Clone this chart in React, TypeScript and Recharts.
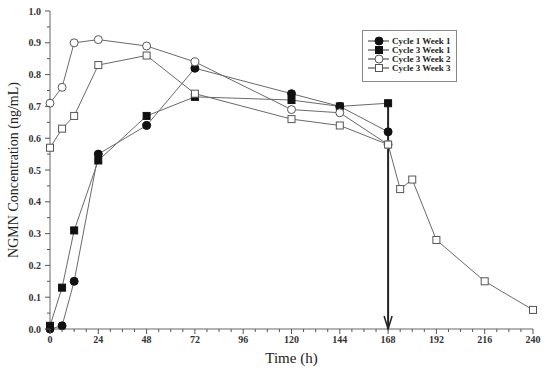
import {
  LineChart,
  Line,
  XAxis,
  YAxis,
  Legend,
  ReferenceLine,
  ReferenceDot,
} from "recharts";

// sampling times (h)
const hoursShort = [0, 6, 12, 24, 48, 72, 120, 144, 168];
const hoursLong = [0, 6, 12, 24, 48, 72, 120, 144, 168, 174, 180, 192, 216, 240];

// NGMN concentration (ng/mL)
const cycle1Week1 = [0.0, 0.01, 0.15, 0.55, 0.64, 0.82, 0.74, 0.7, 0.62];
const cycle3Week1 = [0.01, 0.13, 0.31, 0.53, 0.67, 0.73, 0.72, 0.7, 0.71];
const cycle3Week2 = [0.71, 0.76, 0.9, 0.91, 0.89, 0.84, 0.69, 0.68, 0.58];
const cycle3Week3 = [0.57, 0.63, 0.67, 0.83, 0.86, 0.74, 0.66, 0.64, 0.58, 0.44, 0.47, 0.28, 0.15, 0.06];

const seriesNames = ["Cycle 1 Week 1", "Cycle 3 Week 1", "Cycle 3 Week 2", "Cycle 3 Week 3"];

// dosing arrow
const arrowHour = 168;
const arrowTop = 0.71;

const xTicks = Array.from({ length: 41 }, (_, i) => i * 6);
const yTicks = Array.from({ length: 21 }, (_, i) => Math.round(i * 5) / 100);

const FONT = "'Liberation Serif', 'Times New Roman', serif";
const LINE = "#6a6a6a";
const MARK = "#111";
const OPEN = "#555";

function toPoints(hours: number[], vals: number[]) {
  return hours.map((t, i) => ({ t, v: vals[i] }));
}

type Kind = "circle" | "square";

function Marker({ cx, cy, kind, filled }: { cx: number; cy: number; kind: Kind; filled: boolean }) {
  const fill = filled ? MARK : "#fff";
  const stroke = filled ? MARK : OPEN;
  if (kind === "circle") return <circle cx={cx} cy={cy} r={4} fill={fill} stroke={stroke} strokeWidth={1} />;
  return <rect x={cx - 3.5} y={cy - 3.5} width={7} height={7} fill={fill} stroke={stroke} strokeWidth={1} />;
}

const dotFn = (kind: Kind, filled: boolean) => (p: any) =>
  <Marker key={`${kind}-${filled}-${p.index}`} cx={p.cx} cy={p.cy} kind={kind} filled={filled} />;

const styles: { kind: Kind; filled: boolean }[] = [
  { kind: "circle", filled: true },
  { kind: "square", filled: true },
  { kind: "circle", filled: false },
  { kind: "square", filled: false },
];

function XTick({ x, y, payload }: any) {
  const v = payload.value;
  const major = v % 24 === 0;
  return (
    <g>
      <line x1={x} x2={x} y1={y} y2={y + (major ? 5 : 3)} stroke="#555" />
      {major && (
        <text x={x} y={y + 14} textAnchor="middle" fontSize={10} fontWeight="bold" fill="#333" fontFamily={FONT}>
          {v}
        </text>
      )}
    </g>
  );
}

function YTick({ x, y, payload }: any) {
  const v = payload.value;
  const major = Math.round(v * 100) % 10 === 0;
  return (
    <g>
      <line x1={x} x2={x - (major ? 5 : 3)} y1={y} y2={y} stroke="#555" />
      {major && (
        <text x={x - 9} y={y} dy="0.35em" textAnchor="end" fontSize={10} fontWeight="bold" fill="#333" fontFamily={FONT}>
          {v.toFixed(1)}
        </text>
      )}
    </g>
  );
}

function LegendBox() {
  return (
    <div style={{ border: "1px solid #888", background: "#fff", width: 95, height: 52, boxSizing: "border-box" }}>
      <svg width={93} height={50} style={{ display: "block" }}>
        {seriesNames.map((name, i) => {
          const y = 10 + i * 9;
          return (
            <g key={name}>
              <line x1={5} x2={26} y1={y} y2={y} stroke="#333" />
              <Marker cx={16} cy={y} kind={styles[i].kind} filled={styles[i].filled} />
              <text x={29} y={y} dy="0.35em" fontSize={9} fontWeight="bold" fill="#222" fontFamily={FONT}>
                {name}
              </text>
            </g>
          );
        })}
      </svg>
    </div>
  );
}

export default function App() {
  const series = [
    toPoints(hoursShort, cycle1Week1),
    toPoints(hoursShort, cycle3Week1),
    toPoints(hoursShort, cycle3Week2),
    toPoints(hoursLong, cycle3Week3),
  ];

  return (
    <div style={{ position: "absolute", left: 0, top: 0, background: "#fff" }}>
      <LineChart width={550} height={380} margin={{ top: 11, right: 17, bottom: 0, left: 0 }}>
        <XAxis
          type="number"
          dataKey="t"
          domain={[0, 240]}
          ticks={xTicks}
          interval={0}
          allowDuplicatedCategory={false}
          height={51}
          stroke="#666"
          tickLine={false}
          tickSize={0}
          tickMargin={0}
          tick={<XTick />}
          label={{ value: "Time (h)", position: "insideBottom", offset: 17, fontSize: 15, fill: "#222", fontFamily: FONT }}
        />
        <YAxis
          type="number"
          dataKey="v"
          domain={[0, 1]}
          ticks={yTicks}
          interval={0}
          width={50}
          stroke="#666"
          tickLine={false}
          tickSize={0}
          tickMargin={0}
          tick={<YTick />}
          label={{
            value: "NGMN Concentration (ng/mL)",
            angle: -90,
            position: "insideLeft",
            offset: 13,
            fontSize: 14,
            fill: "#222",
            fontFamily: FONT,
            style: { textAnchor: "middle" },
          }}
        />
        <Legend
          layout="horizontal"
          verticalAlign="middle"
          align="center"
          content={() => <LegendBox />}
          wrapperStyle={{ position: "absolute", left: 362, top: 30, width: 95, height: 52 }}
        />
        {series.map((d, i) => (
          <Line
            key={seriesNames[i]}
            data={d}
            dataKey="v"
            name={seriesNames[i]}
            stroke={LINE}
            strokeWidth={1}
            dot={dotFn(styles[i].kind, styles[i].filled)}
            activeDot={false}
            isAnimationActive={false}
          />
        ))}
        <ReferenceLine
          segment={[
            { x: arrowHour, y: arrowTop },
            { x: arrowHour, y: 0 },
          ]}
          stroke="#222"
          strokeWidth={2}
        />
        <ReferenceDot
          x={arrowHour}
          y={0}
          shape={(p: any) => (
            <path
              d={`M${p.cx - 4},${p.cy - 13} L${p.cx},${p.cy} L${p.cx + 4},${p.cy - 13}`}
              fill="none"
              stroke="#222"
              strokeWidth={1.5}
            />
          )}
        />
      </LineChart>
    </div>
  );
}
